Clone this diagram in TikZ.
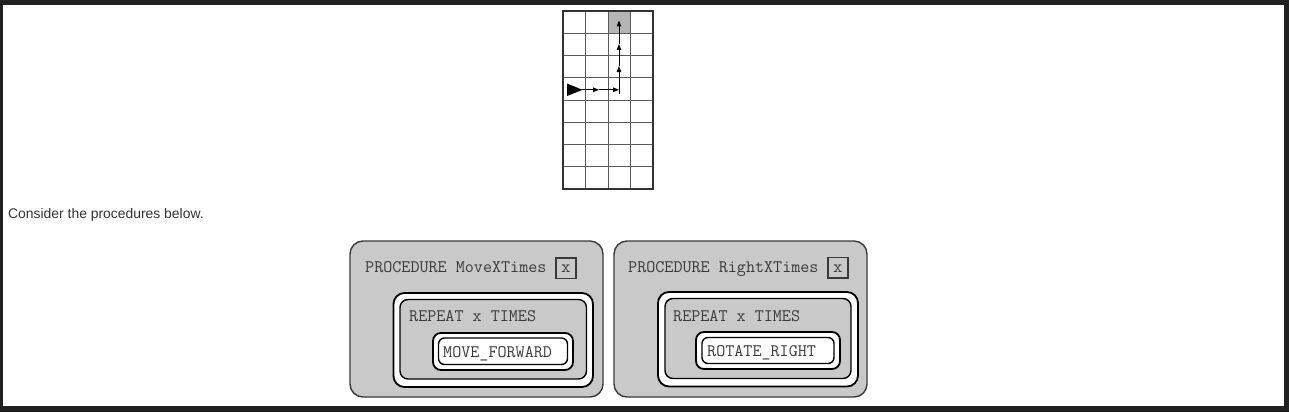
\documentclass[tikz,border=0pt]{standalone}
\usepackage{fontspec}
\setmainfont{Liberation Sans}
\usetikzlibrary{arrows.meta}
\definecolor{frame}{HTML}{202020}
\definecolor{boxgray}{HTML}{C9C9C9}
\definecolor{cellgray}{HTML}{B5B5B5}
\definecolor{inkgray}{HTML}{3A3A3A}
\definecolor{gridline}{HTML}{5A5A5A}
\tikzset{
  codetext/.style={inner sep=0pt, anchor=base west, text=inkgray, font=\ttfamily\fontsize{17.6}{18}\selectfont},
  procbox/.style={draw=inkgray, line width=1.4pt, fill=boxgray, rounded corners=13pt},
  bandout/.style={draw=black, line width=1.8pt, fill=white},
  bandin/.style={draw=black, line width=1.4pt},
  argbox/.style={draw=inkgray, line width=1.3pt, fill=boxgray},
  pathline/.style={line width=1pt, -{Triangle[length=6pt,width=4.5pt]}},
}
\begin{document}
\begin{tikzpicture}[x=1pt,y=-1pt]
\useasboundingbox (0,0) rectangle (1289,412);
\fill[frame] (0,0) rectangle (1289,412);
\fill[white] (3,5) rectangle (1284,406);

% ---- grid ----
\fill[cellgray] (608,11) rectangle (630.5,33.25);
\foreach \i in {1,2,3} \draw[gridline, line width=1pt] ({563+22.5*\i},11) -- ({563+22.5*\i},189);
\foreach \j in {1,...,7} \draw[gridline, line width=1pt] (563,{11+22.25*\j}) -- (653,{11+22.25*\j});
\draw[black!80, line width=1.2pt] (563,11) rectangle (653,189);

\fill[black] (567,83.5) -- (582.5,89.8) -- (567,96) -- cycle;
\coordinate (s) at (582,89.8);
\coordinate (h1) at (599,89.8);
\coordinate (c) at (619,89.8);
\coordinate (v1) at (619,66);
\coordinate (v2) at (619,44);
\coordinate (v3) at (619,20.5);
\draw[pathline] (s) -- (h1);
\draw[pathline] (h1) -- (c);
\draw[line width=1pt] (c) -- ([yshift=-4pt]c);
\draw[pathline] (c) -- (v1);
\draw[pathline] (v1) -- (v2);
\draw[pathline] (v2) -- (v3);

% ---- caption ----
\node[inner sep=0pt, anchor=base west, text=black!80, font=\fontsize{13.9}{16}\selectfont] (cap) at (8,218.5) {Consider the procedures below.};

% ---- left procedure ----
\draw[procbox] (350,241) rectangle (603,397);
\node[codetext] (p1) at (365,272.5) {PROCEDURE MoveXTimes};
\draw[argbox] (556,258) rectangle (576,278.5);
\node[codetext, anchor=base] (x1) at (566,272.5) {x};
\draw[bandout, rounded corners=11pt] (393.5,293) rectangle (593,387);
\draw[bandin, fill=boxgray, rounded corners=8pt] (400,299.5) rectangle (586.5,379);
\node[codetext] (r1) at (409,321.5) {REPEAT x TIMES};
\draw[bandout, rounded corners=8pt] (433,333) rectangle (573,370);
\draw[bandin, fill=white, rounded corners=6pt] (438.5,338) rectangle (567.5,364.5);
\node[codetext] (m1) at (443,357.5) {MOVE\_FORWARD};

% ---- right procedure ----
\draw[procbox] (614,241) rectangle (867,397);
\node[codetext] (p2) at (628,272) {PROCEDURE RightXTimes};
\draw[argbox] (828,257.5) rectangle (848,278);
\node[codetext, anchor=base] (x2) at (838,272) {x};
\draw[bandout, rounded corners=11pt] (658,292) rectangle (858,386.5);
\draw[bandin, fill=boxgray, rounded corners=8pt] (665,298.5) rectangle (851,378.5);
\node[codetext] (r2) at (673,321) {REPEAT x TIMES};
\draw[bandout, rounded corners=8pt] (696,332) rectangle (840,369);
\draw[bandin, fill=white, rounded corners=6pt] (702,337.5) rectangle (834,363.5);
\node[codetext] (m2) at (707,356.5) {ROTATE\_RIGHT};
\end{tikzpicture}
\end{document}
